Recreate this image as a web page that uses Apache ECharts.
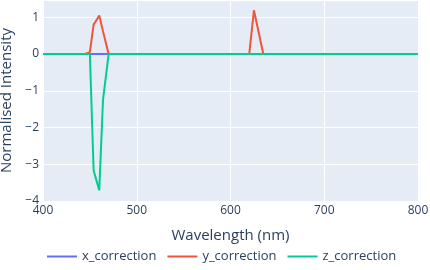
<!DOCTYPE html>
<html><head><meta charset="utf-8">
<script src="https://cdn.jsdelivr.net/npm/echarts@6/dist/echarts.min.js"></script>
<style>html,body{margin:0;padding:0;background:#fff}#c{width:430px;height:270px}</style>
</head><body><div id="c"></div>
<script>
var wavelengths = [400, 445, 450, 454, 456, 460, 464, 470, 620, 625, 635, 800];
var xCorrection = [0, 0, 0, 0, 0, 0, 0, 0, 0, 0, 0, 0];
var yCorrection = [0, 0, 0.05, 0.8, 0.88, 1.05, 0.62, 0, 0, 1.19, 0, 0];
var zCorrection = [0, 0, 0, -3.17, -3.35, -3.71, -1.25, 0, 0, 0, 0, 0];
var seriesNames = ['x_correction', 'y_correction', 'z_correction'];
var seriesColors = ['#636EFA', '#EF553B', '#00CC96'];
var seriesValues = [xCorrection, yCorrection, zCorrection];

var font = '"Open Sans", verdana, arial, sans-serif';
var txt = '#2a3f5f';
var chart = echarts.init(document.getElementById('c'), null, {renderer: 'canvas'});
chart.setOption({
  animation: false,
  backgroundColor: '#fff',
  textStyle: {fontFamily: font, color: txt},
  grid: {left: 43, right: 12, top: 0, bottom: 69, show: true, backgroundColor: '#E5ECF6', borderWidth: 0,
    containLabel: false, outerBoundsMode: 'none'},
  legend: {
    data: seriesNames, left: 47, top: 250, padding: 0, itemWidth: 30, itemHeight: 2, itemGap: 11, icon: 'rect',
    textStyle: {fontFamily: font, fontSize: 13, color: txt}
  },
  xAxis: {
    type: 'value', min: 400, max: 800, interval: 100,
    name: 'Wavelength (nm)', nameLocation: 'middle', nameGap: 27,
    nameTextStyle: {fontFamily: font, fontSize: 15, color: txt},
    axisLine: {show: false}, axisTick: {show: false},
    axisLabel: {fontFamily: font, fontSize: 12, color: txt, margin: 4},
    splitLine: {show: true, lineStyle: {color: '#fff', width: 1}}
  },
  yAxis: {
    type: 'value', min: -4, max: 1.47, interval: 1,
    name: 'Normalised Intensity', nameLocation: 'middle', nameGap: 16,
    nameTextStyle: {fontFamily: font, fontSize: 15, color: txt},
    axisLine: {show: false}, axisTick: {show: false},
    axisLabel: {fontFamily: font, fontSize: 12, color: txt, margin: 4, showMaxLabel: false,
      formatter: function (v) { return String(v).replace('-', '\u2212'); }},
    splitLine: {show: true, lineStyle: {color: '#fff', width: 1}}
  },
  series: seriesNames.map(function (n, i) {
    return {
      name: n, type: 'line', showSymbol: false, symbol: 'none',
      color: seriesColors[i],
      lineStyle: {width: 2, color: seriesColors[i]},
      data: wavelengths.map(function (w, j) { return [w, seriesValues[i][j]]; })
    };
  })
});
</script></body></html>
